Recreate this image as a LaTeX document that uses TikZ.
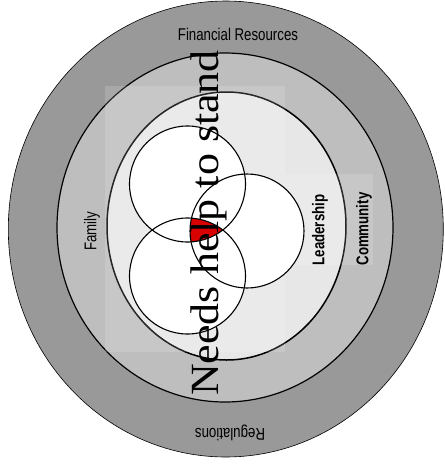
\documentclass[tikz,border=0pt]{standalone}
\usepackage{fontspec}
\usepackage{tikz}
\setmainfont{Liberation Serif}
\newfontfamily\narrowsf[FakeStretch=0.78]{Liberation Sans}
\newfontfamily\mottofont[FakeStretch=1.1]{Liberation Serif}
\definecolor{outerring}{HTML}{999999}
\definecolor{midring}{HTML}{BEBEBE}
\definecolor{innerring}{HTML}{E7E7E7}

\begin{document}
\begin{tikzpicture}[x=1pt,y=-1pt,
    tag/.style={font=\narrowsf\fontsize{17}{17}\selectfont,inner sep=0pt},
    boldtag/.style={font=\narrowsf\bfseries\fontsize{17}{17}\selectfont,inner sep=0pt},
    petal/.style={draw=black,line width=1.1pt}]
  \useasboundingbox (0,0) rectangle (445,464);
  \filldraw[fill=outerring,draw=black,line width=0.6pt] (225.8,229) ellipse [x radius=217.5pt, y radius=228pt];
  \filldraw[fill=midring,draw=black,line width=1.2pt] (225,227.5) ellipse [x radius=168pt, y radius=174.5pt];
  \filldraw[fill=innerring,draw=black,line width=1.5pt] (226.5,226) ellipse [x radius=119.5pt, y radius=134pt];
  \fill[white,opacity=0.15] (105,86) rectangle (285,352);
  \fill[white,opacity=0.15] (285,174) rectangle (373,265);
  \foreach \cx/\cy/\r in {187.5/184/58, 187.5/276/58, 247/231/57}
     \fill[white] (\cx,\cy) circle (\r pt);
  \begin{scope}
    \clip (187.5,184) circle (58pt);
    \clip (187.5,276) circle (58pt);
    \fill[red!85!black] (247,231) circle (57pt);
  \end{scope}
  \foreach \cx/\cy/\r in {187.5/184/58, 187.5/276/58, 247/231/57}
     \draw[petal] (\cx,\cy) circle (\r pt);
  \node[tag,anchor=base] (money) at (238,40) {Financial Resources};
  \node[tag,rotate=180] (rules) at (230,433) {Regulations};
  \node[tag,rotate=90] (family) at (92,231) {Family};
  \node[boldtag,rotate=90] (leader) at (320,230) {Leadership};
  \node[boldtag,rotate=90] (community) at (364,229) {Community};
  \node[font=\mottofont\fontsize{40}{40}\selectfont,rotate=90,anchor=base,inner sep=0pt] (motto) at (218,223) {Needs help to stand};
\end{tikzpicture}
\end{document}
